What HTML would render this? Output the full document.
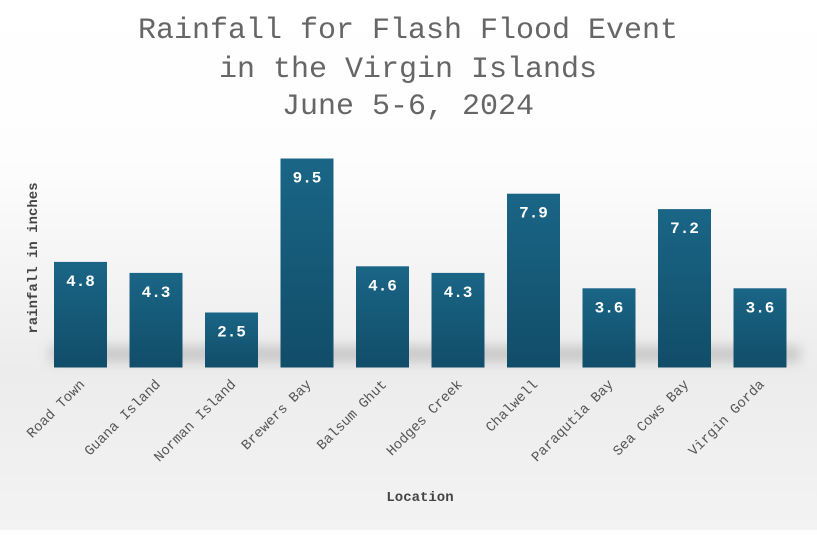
<!DOCTYPE html>
<html><head><meta charset="utf-8"><style>
body{margin:0;width:817px;height:530px;overflow:hidden;background:linear-gradient(#fff 0%,#fdfdfd 30%,#ececec 70%,#f3f3f3 100%);font-family:"Liberation Mono",monospace}
</style></head><body>
<svg id="chart" width="817" height="530" xmlns="http://www.w3.org/2000/svg">
<defs>
<linearGradient id="bg" x1="0" y1="0" x2="0" y2="1"><stop offset="0" stop-color="#1a6586"/><stop offset="1" stop-color="#114d69"/></linearGradient>
<filter id="blur" x="-20%" y="-100%" width="140%" height="300%"><feGaussianBlur stdDeviation="6"/></filter>
</defs>
<text x="408" y="38" text-anchor="middle" font-size="30" fill="#666">Rainfall for Flash Flood Event</text>
<text x="408" y="77" text-anchor="middle" font-size="30" fill="#666">in the Virgin Islands</text>
<text x="408" y="114" text-anchor="middle" font-size="30" fill="#666">June 5-6, 2024</text>
<text transform="translate(37,258) rotate(-90)" text-anchor="middle" font-size="14" font-weight="bold" fill="#444">rainfall in inches</text>
<text x="420" y="501" text-anchor="middle" font-size="14" font-weight="bold" fill="#444">Location</text>
<rect x="50" y="346" width="750" height="16" fill="#999" opacity="0.45" filter="url(#blur)"/>
<g id="bars"></g>
</svg>
<script>
const categories=["Road Town","Guana Island","Norman Island","Brewers Bay","Balsum Ghut","Hodges Creek","Chalwell","Paraqutia Bay","Sea Cows Bay","Virgin Gorda"];
const values=[4.8,4.3,2.5,9.5,4.6,4.3,7.9,3.6,7.2,3.6];
const labels=["4.8","4.3","2.5","9.5","4.6","4.3","7.9","3.6","7.2","3.6"];
const NS="http://www.w3.org/2000/svg";
const x0=42.75,step=75.5,bw=53,base=367.5,scale=22;
function xPos(i){return x0+step*i+step/2;}
function yPos(v){return base-v*scale;}
const g=document.getElementById('bars');
categories.forEach((c,i)=>{
  const cx=xPos(i),y=yPos(values[i]);
  const r=document.createElementNS(NS,'rect');
  
  
  r.setAttribute('x',cx-bw/2);r.setAttribute('y',y);r.setAttribute('width',bw);r.setAttribute('height',base-y);r.setAttribute('fill','url(#bg)');
  g.appendChild(r);
  const t=document.createElementNS(NS,'text');
  
  
  t.setAttribute('x',cx);t.setAttribute('y',y+24);t.setAttribute('text-anchor','middle');t.setAttribute('font-size','16');t.setAttribute('font-weight','bold');t.setAttribute('fill','#fff');
  t.textContent=labels[i];g.appendChild(t);
  const l=document.createElementNS(NS,'text');
  
  
  l.setAttribute('transform','translate('+(cx+5)+',385) rotate(-45)');l.setAttribute('text-anchor','end');l.setAttribute('font-size','14');l.setAttribute('fill','#555');
  l.textContent=c;g.appendChild(l);
});
</script>
</body></html>
